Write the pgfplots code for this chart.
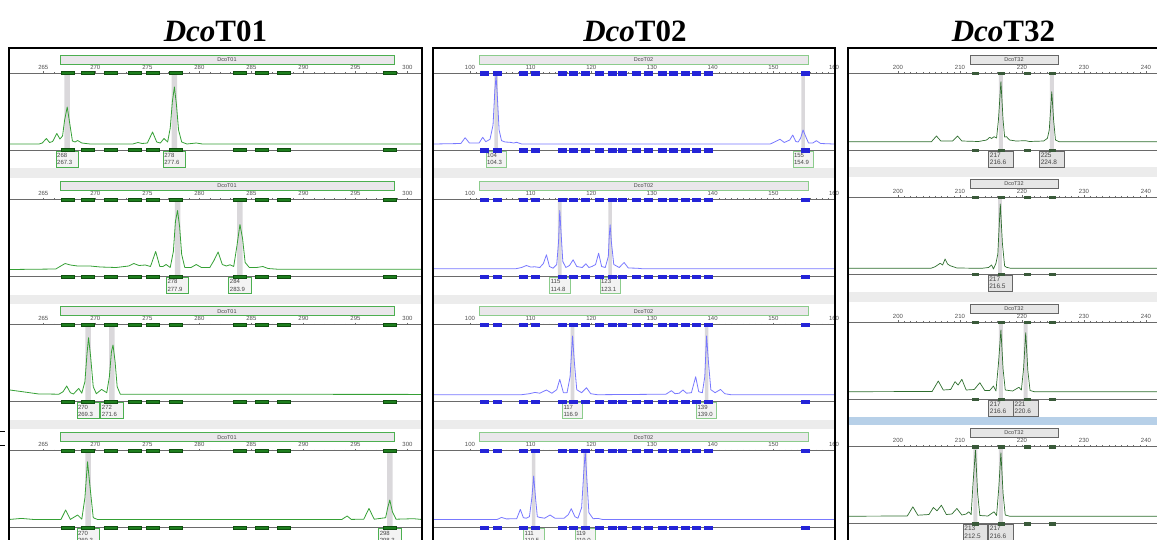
\documentclass[border=0pt]{standalone}
\usepackage{fontspec}
\setmainfont{Liberation Serif}
\newfontfamily\lsans{Liberation Sans}
\usepackage{pgfplots}
\usepackage{pgfplotstable}
\pgfplotsset{compat=1.18}

\definecolor{axgray}{HTML}{6A6A6A}
\definecolor{tickgray}{HTML}{505050}
\definecolor{hlgray}{HTML}{DAD8DB}
\definecolor{bandgray}{HTML}{ECECEC}
\definecolor{bandblue}{HTML}{B7D0E8}
\definecolor{trA}{HTML}{35A035}
\definecolor{trB}{HTML}{7878FF}
\definecolor{trC}{HTML}{2E6E2E}
\definecolor{binAfill}{HTML}{1E7E1E}
\definecolor{binAdraw}{HTML}{0F4F0F}
\definecolor{binBfill}{HTML}{2424D8}
\definecolor{binCfill}{HTML}{3A5A3A}
\definecolor{hdrAborder}{HTML}{4CAF50}
\definecolor{hdrBborder}{HTML}{8CCC8C}
\definecolor{hdrfill}{HTML}{EAE7EB}
\definecolor{hdrCfill}{HTML}{E6E6E6}
\definecolor{hdrCborder}{HTML}{666666}
\definecolor{labfill}{HTML}{F3F3F3}
\definecolor{labCfill}{HTML}{E2E2E2}
\definecolor{labtext}{HTML}{444444}

\pgfdeclareplotmark{binA}{\pgfpathrectangle{\pgfqpoint{-6.5pt}{-1.6pt}}{\pgfqpoint{13pt}{3.2pt}}\pgfusepathqfillstroke}
\pgfdeclareplotmark{binB}{\pgfpathrectangle{\pgfqpoint{-4pt}{-1.6pt}}{\pgfqpoint{8pt}{3.2pt}}\pgfusepathqfillstroke}
\pgfdeclareplotmark{binC}{\pgfpathrectangle{\pgfqpoint{-3pt}{-1.4pt}}{\pgfqpoint{6pt}{2.8pt}}\pgfusepathqfillstroke}

\pgfplotstableread{
x top bot
267.3 77 0
269.25 77 0
271.45 77 0
273.75 77 0
275.55 77 0
277.75 77 0
283.9 77 0
286.0 77 0
288.1 77 0
298.25 77 0
}\binsA
\pgfplotstableread{
x top bot
102.3 77 0
104.4 77 0
108.7 77 0
110.7 77 0
115.2 77 0
117.0 77 0
119.0 77 0
121.3 77 0
123.4 77 0
125.1 77 0
127.3 77 0
129.3 77 0
131.6 77 0
133.5 77 0
135.5 77 0
137.2 77 0
139.2 77 0
155.2 77 0
}\binsB
\pgfplotstableread{
x top bot
212.5 77 0
216.6 77 0
220.8 77 0
224.9 77 0
}\binsC

\pgfplotsset{
  base/.style={scale only axis, height=77pt, ymin=0, ymax=77,
    axis x line=box, axis y line=none, clip=false,
    xtick pos=right, xticklabel pos=right, tick align=outside,
    major tick length=2pt, minor tick length=1.2pt,
    tick style={draw=axgray, line width=0.4pt},
    x axis line style={draw=axgray, line width=1pt},
    xticklabel style={font=\lsans\fontsize{6}{6}\selectfont, text=tickgray, color=tickgray, inner sep=1.5pt},
    /pgf/number format/assume math mode=true,
    /pgf/number format/1000 sep={}},
  cA/.style={base, width=411pt, xmin=261.8, xmax=301.3, xtick={265,270,...,300}, minor x tick num=4},
  cB/.style={base, width=400pt, xmin=94.07, xmax=160, xtick={100,110,...,160}, minor x tick num=9},
  cC/.style={base, width=311pt, xmin=192.1, xmax=242.26, xtick={200,210,...,240}, minor x tick num=9},
  hl/.style={ybar, bar shift=0pt, fill=hlgray, draw=none, forget plot},
}
\tikzset{
  labA/.style={draw=hdrAborder, fill=labfill, line width=0.6pt, anchor=north, text width=20pt, minimum height=16pt, inner xsep=1.2pt, inner ysep=0.6pt, align=left, font=\lsans\fontsize{6}{7.2}\selectfont, text=labtext},
  labB/.style={labA, draw=hdrBborder, text width=18pt},
  labC/.style={labA, draw=hdrCborder, fill=labCfill, text width=22pt, font=\lsans\fontsize{6.5}{7.4}\selectfont},
  hdrtext/.style={font=\lsans\fontsize{5.5}{5.5}\selectfont, text=labtext},
}

\begin{document}
\begin{tikzpicture}
\path[use as bounding box] (0pt,0pt) rectangle (1157pt,-539pt);
\clip (0pt,0pt) rectangle (1157pt,-539pt);

% titles
\node[anchor=base, font=\fontsize{31}{31}\selectfont\bfseries] at (215.5pt,-41pt) {\textit{Dco}T01};
\node[anchor=base, font=\fontsize{31}{31}\selectfont\bfseries] at (635pt,-41pt) {\textit{Dco}T02};
\node[anchor=base, font=\fontsize{31}{31}\selectfont\bfseries] at (1003.5pt,-41pt) {\textit{Dco}T32};

% ===================== Column 1 : DcoT01 =====================
\begin{axis}[cA, at={(10pt,-150pt)}, anchor=south west]
\fill[bandgray] (axis cs:261.8,-18) rectangle (axis cs:301.3,-27.5);
\filldraw[fill=hdrfill, draw=hdrAborder, line width=0.6pt] (axis cs:266.6,86) rectangle (axis cs:298.7,95);
\node[hdrtext] at (axis cs:282.65,90.5) {DcoT01};
\addplot[hl, bar width=5.5pt] coordinates {(267.3,77) (277.6,77)};
\addplot[trA, line width=0.8pt, line join=round] coordinates {(261.8,6)(264.6,6)(264.9,7)(265.3,11.5)(265.6,7.5)(265.9,8.5)(266.3,16.5)(266.6,11)(266.85,14)(267.05,30)(267.3,43)(267.55,26)(267.8,9)(268.05,8)(268.3,9.5)(268.7,7)(269.5,6)(273.6,6)(274.1,7.5)(274.5,6.5)(275.0,7)(275.5,18)(275.9,8)(276.25,7)(276.6,11.5)(276.95,8)(277.2,22)(277.4,48)(277.6,63)(277.8,45)(278.0,20)(278.3,8)(278.8,6)(279.7,7)(280.3,6)(301.3,6)};
\addplot[only marks, mark=binA, mark options={fill=binAfill, draw=binAdraw, line width=0.3pt}] table[x=x,y=top]{\binsA};
\addplot[only marks, mark=binA, mark options={fill=binAfill, draw=binAdraw, line width=0.3pt}] table[x=x,y=bot]{\binsA};
\node[labA] at (axis cs:267.3,-0.6) {268\\267.3};
\node[labA] at (axis cs:277.6,-0.6) {278\\277.6};
\end{axis}
\begin{axis}[cA, at={(10pt,-276.5pt)}, anchor=south west]
\fill[bandgray] (axis cs:261.8,-18) rectangle (axis cs:301.3,-27.5);
\filldraw[fill=hdrfill, draw=hdrAborder, line width=0.6pt] (axis cs:266.6,86) rectangle (axis cs:298.7,95);
\node[hdrtext] at (axis cs:282.65,90.5) {DcoT01};
\addplot[hl, bar width=5.5pt] coordinates {(277.9,77) (283.9,77)};
\addplot[trA, line width=0.8pt, line join=round] coordinates {(261.8,7)(266.2,7.5)(266.6,10)(267.1,13)(267.6,11.5)(268.3,10.5)(269.5,10.5)(270.5,9.5)(272,9)(273.2,10.5)(273.7,13)(274.2,11)(274.8,11.5)(275.3,10)(275.8,25)(276.2,10)(276.5,10)(276.8,12)(277.2,9)(277.5,25)(277.7,55)(277.9,66)(278.1,50)(278.3,22)(278.6,9)(279.2,9)(279.7,12)(280.2,9)(281.0,9)(281.4,16)(281.8,24.5)(282.2,12)(282.6,10.5)(282.95,11.7)(283.3,10)(283.6,30)(283.9,52)(284.15,38)(284.4,14)(284.8,9)(285.5,9)(286.1,10)(286.6,8)(287.5,7.3)(301.3,7.3)};
\addplot[only marks, mark=binA, mark options={fill=binAfill, draw=binAdraw, line width=0.3pt}] table[x=x,y=top]{\binsA};
\addplot[only marks, mark=binA, mark options={fill=binAfill, draw=binAdraw, line width=0.3pt}] table[x=x,y=bot]{\binsA};
\node[labA] at (axis cs:277.9,-0.6) {278\\277.9};
\node[labA] at (axis cs:283.9,-0.6) {284\\283.9};
\end{axis}
\begin{axis}[cA, at={(10pt,-401.7pt)}, anchor=south west]
\fill[bandgray] (axis cs:261.8,-18) rectangle (axis cs:301.3,-27.5);
\filldraw[fill=hdrfill, draw=hdrAborder, line width=0.6pt] (axis cs:266.6,86) rectangle (axis cs:298.7,95);
\node[hdrtext] at (axis cs:282.65,90.5) {DcoT01};
\addplot[hl, bar width=5.5pt] coordinates {(269.3,77) (271.6,77)};
\addplot[trA, line width=0.8pt, line join=round] coordinates {(261.8,11.7)(263,10)(264.5,7.8)(266.5,7.5)(266.9,10)(267.25,15.7)(267.6,9)(267.9,7.7)(268.4,13.3)(268.7,8.5)(269.0,20)(269.2,48)(269.35,64)(269.55,45)(269.8,15)(270.1,8)(270.6,12.3)(271.1,9)(271.35,25)(271.55,50)(271.7,56.7)(271.9,40)(272.1,15)(272.4,7.5)(301.3,7.3)};
\addplot[only marks, mark=binA, mark options={fill=binAfill, draw=binAdraw, line width=0.3pt}] table[x=x,y=top]{\binsA};
\addplot[only marks, mark=binA, mark options={fill=binAfill, draw=binAdraw, line width=0.3pt}] table[x=x,y=bot]{\binsA};
\node[labA] at (axis cs:269.3,-0.6) {270\\269.3};
\node[labA] at (axis cs:271.6,-0.6) {272\\271.6};
\end{axis}
\begin{axis}[cA, at={(10pt,-527.7pt)}, anchor=south west]
\filldraw[fill=hdrfill, draw=hdrAborder, line width=0.6pt] (axis cs:266.6,86) rectangle (axis cs:298.7,95);
\node[hdrtext] at (axis cs:282.65,90.5) {DcoT01};
\addplot[hl, bar width=5.5pt] coordinates {(269.3,77) (298.3,77)};
\addplot[trA, line width=0.8pt, line join=round] coordinates {(261.8,8.3)(262.9,9.3)(264,8.3)(266.7,8.3)(267.15,17.7)(267.6,8.3)(268.3,12.7)(268.7,8.5)(269.0,30)(269.25,66)(269.5,40)(269.8,10)(270.2,8.3)(293.7,8.3)(294.2,11.7)(294.6,8.3)(295.8,8.5)(296.3,19.3)(296.8,8.5)(297.9,10)(298.1,20)(298.3,27.7)(298.55,16)(298.9,8.5)(300.6,9)(301.3,8.3)};
\addplot[only marks, mark=binA, mark options={fill=binAfill, draw=binAdraw, line width=0.3pt}] table[x=x,y=top]{\binsA};
\addplot[only marks, mark=binA, mark options={fill=binAfill, draw=binAdraw, line width=0.3pt}] table[x=x,y=bot]{\binsA};
\node[labA] at (axis cs:269.3,-0.6) {270\\269.3};
\node[labA] at (axis cs:298.3,-0.6) {298\\298.3};
\end{axis}

% ===================== Column 2 : DcoT02 =====================
\begin{axis}[cB, at={(434pt,-150pt)}, anchor=south west]
\fill[bandgray] (axis cs:94.07,-18) rectangle (axis cs:160,-27.5);
\filldraw[fill=hdrfill, draw=hdrBborder, line width=0.6pt] (axis cs:101.5,86) rectangle (axis cs:155.7,95);
\node[hdrtext] at (axis cs:128.6,90.5) {DcoT02};
\addplot[hl, bar width=3.6pt] coordinates {(104.3,77) (154.9,77)};
\addplot[trB, line width=0.8pt, line join=round] coordinates {(94.07,6)(98.5,6.5)(99.2,12.3)(99.9,7)(101.5,7)(102.1,12.7)(102.6,8.3)(103.3,10.7)(103.8,25)(104.1,60)(104.3,74)(104.5,55)(104.8,20)(105.2,9.3)(105.8,8)(106.6,7.7)(107.2,7)(107.7,7.7)(108.5,6)(149.5,6)(151.1,10.7)(151.8,7.5)(152.7,10)(153.2,15)(153.7,8.5)(154.1,8)(154.5,12)(154.9,20)(155.3,14)(155.8,7)(156.5,7)(157.1,9.3)(157.8,6.5)(160,6)};
\addplot[only marks, mark=binB, mark options={fill=binBfill, draw=binBfill, line width=0.2pt}] table[x=x,y=top]{\binsB};
\addplot[only marks, mark=binB, mark options={fill=binBfill, draw=binBfill, line width=0.2pt}] table[x=x,y=bot]{\binsB};
\node[labB] at (axis cs:104.3,-0.6) {104\\104.3};
\node[labB] at (axis cs:154.9,-0.6) {155\\154.9};
\end{axis}
\begin{axis}[cB, at={(434pt,-276.5pt)}, anchor=south west]
\fill[bandgray] (axis cs:94.07,-18) rectangle (axis cs:160,-27.5);
\filldraw[fill=hdrfill, draw=hdrBborder, line width=0.6pt] (axis cs:101.5,86) rectangle (axis cs:155.7,95);
\node[hdrtext] at (axis cs:128.6,90.5) {DcoT02};
\addplot[hl, bar width=3.6pt] coordinates {(114.8,77) (123.1,77)};
\addplot[trB, line width=0.8pt, line join=round] coordinates {(94.07,7.7)(107.5,7.7)(108.5,9)(109.3,11)(110.0,9.5)(110.7,9.7)(111.5,9)(112.1,13)(112.6,21.7)(113.1,10)(113.7,8.3)(114.3,12)(114.6,35)(114.8,66)(115.0,45)(115.3,15)(115.8,9)(116.4,11)(117.0,16.7)(117.6,10)(118.5,9)(119.1,12.7)(119.6,9)(120.1,10)(120.7,12)(121.2,23.3)(121.7,10)(122.3,9)(122.8,20)(122.95,40)(123.1,51.7)(123.3,35)(123.7,12)(124.6,9)(125.4,14)(126.1,8.5)(127.5,8.3)(128.5,7.7)(160,7.7)};
\addplot[only marks, mark=binB, mark options={fill=binBfill, draw=binBfill, line width=0.2pt}] table[x=x,y=top]{\binsB};
\addplot[only marks, mark=binB, mark options={fill=binBfill, draw=binBfill, line width=0.2pt}] table[x=x,y=bot]{\binsB};
\node[labB] at (axis cs:114.8,-0.6) {115\\114.8};
\node[labB] at (axis cs:123.1,-0.6) {123\\123.1};
\end{axis}
\begin{axis}[cB, at={(434pt,-401.7pt)}, anchor=south west]
\fill[bandgray] (axis cs:94.07,-18) rectangle (axis cs:160,-27.5);
\filldraw[fill=hdrfill, draw=hdrBborder, line width=0.6pt] (axis cs:101.5,86) rectangle (axis cs:155.7,95);
\node[hdrtext] at (axis cs:128.6,90.5) {DcoT02};
\addplot[hl, bar width=3.6pt] coordinates {(116.9,77) (139.0,77)};
\addplot[trB, line width=0.8pt, line join=round] coordinates {(94.07,7)(108.5,7)(109.8,8)(110.7,9.3)(111.5,8.5)(112.6,11.7)(113.5,8.5)(114.3,12)(114.8,22.3)(115.4,9)(116.0,9)(116.5,25)(116.9,65.7)(117.2,40)(117.6,12)(118.4,9)(119.2,14)(119.9,8)(121,7)(132.3,7.5)(133.2,11)(133.8,8)(134.5,8.5)(135.1,11.7)(135.7,8.5)(136.5,9)(137.2,25)(137.7,10)(138.3,9)(138.7,25)(139.0,65.7)(139.3,40)(139.7,12)(140.4,9)(141.3,12.3)(142.0,8)(143,7)(160,7)};
\addplot[only marks, mark=binB, mark options={fill=binBfill, draw=binBfill, line width=0.2pt}] table[x=x,y=top]{\binsB};
\addplot[only marks, mark=binB, mark options={fill=binBfill, draw=binBfill, line width=0.2pt}] table[x=x,y=bot]{\binsB};
\node[labB] at (axis cs:116.9,-0.6) {117\\116.9};
\node[labB] at (axis cs:139.0,-0.6) {139\\139.0};
\end{axis}
\begin{axis}[cB, at={(434pt,-527.7pt)}, anchor=south west]
\filldraw[fill=hdrfill, draw=hdrBborder, line width=0.6pt] (axis cs:101.5,86) rectangle (axis cs:155.7,95);
\node[hdrtext] at (axis cs:128.6,90.5) {DcoT02};
\addplot[hl, bar width=3.6pt] coordinates {(110.5,77) (119.0,77)};
\addplot[trB, line width=0.8pt, line join=round] coordinates {(94.07,8.3)(104.5,8.3)(105.2,10.3)(106,8.8)(107.7,9)(108.3,18.3)(108.8,10)(109.3,9.5)(109.8,11)(110.2,30)(110.5,51.7)(110.8,30)(111.1,11)(111.5,10.3)(112.3,9.5)(113.2,12.7)(114,9.5)(115.5,9.5)(116.2,13)(116.7,19)(117.3,11)(117.8,9.5)(118.4,20)(118.8,60)(119.0,75)(119.2,55)(119.6,15)(120.3,9)(121.1,9.3)(121.8,8.3)(160,8.3)};
\addplot[only marks, mark=binB, mark options={fill=binBfill, draw=binBfill, line width=0.2pt}] table[x=x,y=top]{\binsB};
\addplot[only marks, mark=binB, mark options={fill=binBfill, draw=binBfill, line width=0.2pt}] table[x=x,y=bot]{\binsB};
\node[labB] at (axis cs:110.5,-0.6) {111\\110.5};
\node[labB] at (axis cs:119.0,-0.6) {119\\119.0};
\end{axis}

% ===================== Column 3 : DcoT32 =====================
\begin{axis}[cC, at={(849pt,-150pt)}, anchor=south west]
\fill[bandgray] (axis cs:192.1,-17) rectangle (axis cs:242.26,-27);
\filldraw[fill=hdrCfill, draw=hdrCborder, line width=0.6pt] (axis cs:211.6,86) rectangle (axis cs:225.8,95);
\node[hdrtext] at (axis cs:218.7,90.5) {DcoT32};
\addplot[hl, bar width=4pt] coordinates {(216.6,77) (224.8,77)};
\addplot[trC, line width=0.7pt, line join=round] coordinates {(192.1,8.3)(205.4,8.3)(206.2,14)(206.9,9)(208.8,9)(209.6,14)(210.3,9)(213,8.5)(214.3,10)(214.8,12.7)(215.1,11.5)(215.5,13.3)(215.9,12)(216.2,30)(216.6,68.3)(216.95,30)(217.2,13)(217.5,13.3)(218,10)(219,9)(220.6,9.3)(221.2,8.5)(223.5,9)(224.1,11.7)(224.4,20)(224.8,58.3)(225.1,30)(225.4,10)(226,8.3)(242.3,8.3)};
\addplot[only marks, mark=binC, mark options={fill=binCfill, draw=binCfill, line width=0.2pt}] table[x=x,y=top]{\binsC};
\addplot[only marks, mark=binC, mark options={fill=binCfill, draw=binCfill, line width=0.2pt}] table[x=x,y=bot]{\binsC};
\node[labC] at (axis cs:216.6,-0.6) {217\\216.6};
\node[labC] at (axis cs:224.8,-0.6) {225\\224.8};
\end{axis}
\begin{axis}[cC, at={(849pt,-274pt)}, anchor=south west]
\fill[bandgray] (axis cs:192.1,-18) rectangle (axis cs:242.26,-28);
\filldraw[fill=hdrCfill, draw=hdrCborder, line width=0.6pt] (axis cs:211.6,86) rectangle (axis cs:225.8,95);
\node[hdrtext] at (axis cs:218.7,90.5) {DcoT32};
\addplot[hl, bar width=4pt] coordinates {(216.5,77)};
\addplot[trC, line width=0.7pt, line join=round] coordinates {(192.1,5.7)(205.3,5.7)(206.0,7.3)(206.8,10.7)(207.2,9)(207.6,15)(208.0,10)(208.4,8.3)(209.5,6)(213.5,5.7)(214.6,6.5)(215.1,9)(215.4,5)(215.8,10.7)(216.1,20)(216.5,70)(216.85,30)(217.2,8)(217.5,6.7)(218.2,5.7)(242.3,5.7)};
\addplot[only marks, mark=binC, mark options={fill=binCfill, draw=binCfill, line width=0.2pt}] table[x=x,y=top]{\binsC};
\addplot[only marks, mark=binC, mark options={fill=binCfill, draw=binCfill, line width=0.2pt}] table[x=x,y=bot]{\binsC};
\node[labC] at (axis cs:216.5,-0.6) {217\\216.5};
\end{axis}
\begin{axis}[cC, at={(849pt,-399pt)}, anchor=south west]
\fill[bandblue] (axis cs:192.1,-18) rectangle (axis cs:242.26,-26);
\filldraw[fill=hdrCfill, draw=hdrCborder, line width=0.6pt] (axis cs:211.6,86) rectangle (axis cs:225.8,95);
\node[hdrtext] at (axis cs:218.7,90.5) {DcoT32};
\addplot[hl, bar width=4pt] coordinates {(216.6,77) (220.6,77)};
\addplot[trC, line width=0.7pt, line join=round] coordinates {(192.1,7.3)(205.5,7.5)(206.5,18)(207.3,9)(208.5,9.5)(209.2,17.3)(209.7,14)(210.3,19.7)(211,9)(212.3,9.5)(213.2,16.3)(214,8.5)(214.8,8.5)(215.4,13)(215.8,8)(216.2,35)(216.6,69)(216.95,30)(217.3,9)(218.5,8)(219.5,11.7)(219.9,9)(220.25,30)(220.6,66.3)(220.95,28)(221.3,8.5)(222,7.3)(242.3,7.3)};
\addplot[only marks, mark=binC, mark options={fill=binCfill, draw=binCfill, line width=0.2pt}] table[x=x,y=top]{\binsC};
\addplot[only marks, mark=binC, mark options={fill=binCfill, draw=binCfill, line width=0.2pt}] table[x=x,y=bot]{\binsC};
\node[labC] at (axis cs:216.6,-0.6) {217\\216.6};
\node[labC] at (axis cs:220.6,-0.6) {221\\220.6};
\end{axis}
\begin{axis}[cC, at={(849pt,-523.5pt)}, anchor=south west]
\filldraw[fill=hdrCfill, draw=hdrCborder, line width=0.6pt] (axis cs:211.6,86) rectangle (axis cs:225.8,95);
\node[hdrtext] at (axis cs:218.7,90.5) {DcoT32};
\addplot[hl, bar width=4pt] coordinates {(212.5,77) (216.6,77)};
\addplot[trC, line width=0.7pt, line join=round] coordinates {(192.1,7.3)(201.5,7.5)(202.4,16.7)(203.2,8.3)(205,9)(205.7,16)(206.3,12.7)(207.0,18.3)(207.8,9)(208.7,9.5)(209.5,15)(210.3,8.5)(211.0,9.5)(211.4,11.7)(211.8,9)(212.1,40)(212.5,73.3)(212.85,30)(213.2,8)(214.5,7.5)(215.5,11.7)(215.9,8)(216.25,35)(216.6,70.7)(216.95,30)(217.3,8.5)(218,7.3)(242.3,7.3)};
\addplot[only marks, mark=binC, mark options={fill=binCfill, draw=binCfill, line width=0.2pt}] table[x=x,y=top]{\binsC};
\addplot[only marks, mark=binC, mark options={fill=binCfill, draw=binCfill, line width=0.2pt}] table[x=x,y=bot]{\binsC};
\node[labC] at (axis cs:212.5,-0.6) {213\\212.5};
\node[labC] at (axis cs:216.6,-0.6) {217\\216.6};
\end{axis}

% column frames
\draw[line width=2pt] (9pt,-545pt) -- (9pt,-48pt) -- (422pt,-48pt) -- (422pt,-545pt);
\draw[line width=2pt] (433pt,-545pt) -- (433pt,-48pt) -- (835pt,-48pt) -- (835pt,-545pt);
\draw[line width=2pt] (847.5pt,-545pt) -- (847.5pt,-48pt) -- (1165pt,-48pt);
% small dashes left of the first frame
\draw[line width=0.8pt] (0pt,-431pt) -- (5pt,-431pt);
\draw[line width=0.8pt] (0pt,-445pt) -- (5pt,-445pt);
\end{tikzpicture}
\end{document}
